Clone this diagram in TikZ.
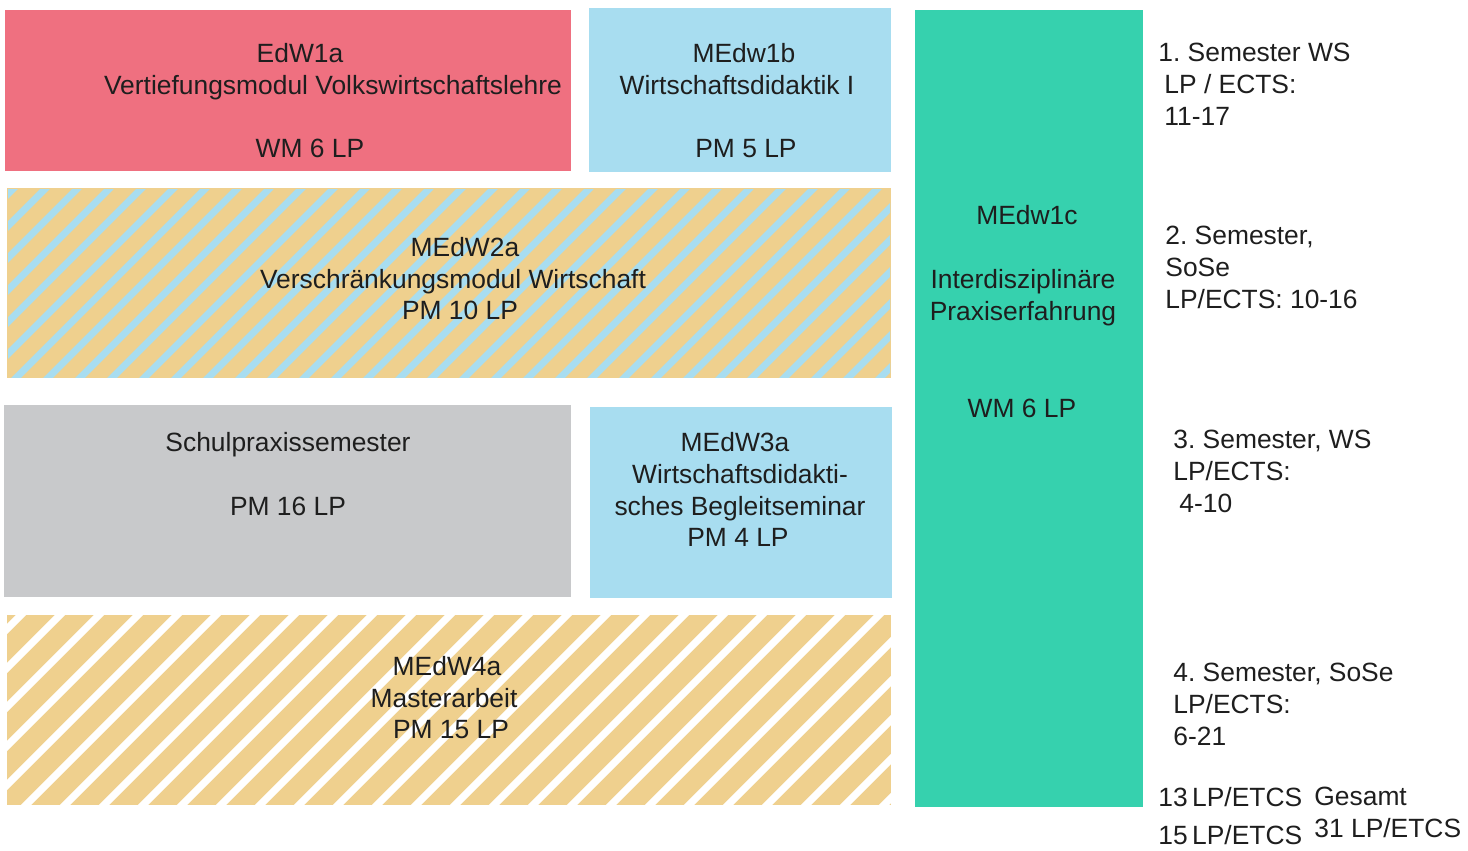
\documentclass[tikz,border=0pt]{standalone}
\usepackage{fontspec}
\setmainfont{Liberation Sans}
\frenchspacing
\definecolor{cred}{RGB}{239,112,128}
\definecolor{cblue}{RGB}{168,221,240}
\definecolor{ctan}{RGB}{239,208,142}
\definecolor{cgray}{RGB}{200,201,203}
\definecolor{cgreen}{RGB}{54,209,174}
\definecolor{ctext}{RGB}{30,30,30}
\tikzset{
  lbl/.style={font=\fontsize{13.2}{16}\selectfont, text=ctext, inner sep=0pt, align=center, anchor=north},
  rlbl/.style={font=\fontsize{13.2}{16}\selectfont, text=ctext, inner sep=0pt, align=left, anchor=north west},
}
\begin{document}
\begin{tikzpicture}[x=0.5pt,y=-0.5pt]
\useasboundingbox (0,0) rectangle (1468,851);
% boxes
\fill[cred] (5,10) rectangle (571,171);
\fill[cblue] (589,8) rectangle (891,172);
\fill[cgray] (4,405) rectangle (571,597);
\fill[cblue] (590,407) rectangle (892,598);
\fill[cgreen] (915,10) rectangle (1143,807);
% hatched MEdW2a
\fill[ctan] (7,188) rectangle (891,378);
\begin{scope}
  \clip (8,189) rectangle (890,377);
  \foreach \i in {-240,-208,...,900}
    \draw[cblue, line width=3.4pt] (\i,410) -- ++(250,-250);
\end{scope}
% hatched MEdW4a
\fill[ctan] (7,615) rectangle (891,805);
\begin{scope}
  \clip (7,615) rectangle (891,805);
  \foreach \i in {-240,-201,...,900}
    \draw[white, line width=3.6pt] (\i,837) -- ++(250,-250);
\end{scope}
% texts
\node[lbl] (t1a) at (300,43) {EdW1a};
\node[lbl] (t1a2) at (333,75) {Vertiefungsmodul Volkswirtschaftslehre};
\node[lbl] (t1a3) at (310,139) {WM 6 LP};
\node[lbl] (t1b) at (744,43) {MEdw1b};
\node[lbl] (t1b2) at (737,75) {Wirtschaftsdidaktik I};
\node[lbl] (t1b3) at (746,139) {PM 5 LP};
\node[lbl] (t2a) at (465,237) {MEdW2a};
\node[lbl] (t2a2) at (453,269) {Verschränkungsmodul Wirtschaft};
\node[lbl] (t2a3) at (460,301) {PM 10 LP};
\node[lbl] (tsp) at (288,432) {Schulpraxissemester\\[16pt]PM 16 LP};
\node[lbl] (t3a) at (735,432) {MEdW3a};
\node[lbl] (t3a2) at (740,464) {Wirtschaftsdidakti-\\sches Begleitseminar};
\node[lbl] (t3a3) at (738,528) {PM 4 LP};
\node[lbl] (t4a) at (447,656) {MEdW4a};
\node[lbl] (t4a2) at (444,688) {Masterarbeit};
\node[lbl] (t4a3) at (451,720) {PM 15 LP};
\node[lbl] (t1c) at (1027,205) {MEdw1c};
\node[lbl] (t1c2) at (1023,269) {Interdisziplinäre\\Praxiserfahrung};
\node[lbl] (t1c3) at (1022,399) {WM 6 LP};
% right column
\node[rlbl] (s1) at (1158,43) {1. Semester WS\\\hspace*{3pt}LP / ECTS:\\\hspace*{3pt}11-17};
\node[rlbl] (s2) at (1165,226) {2. Semester,\\SoSe\\LP/ECTS: 10-16};
\node[rlbl] (s3) at (1173,430) {3. Semester, WS\\LP/ECTS:\\\hspace*{3pt}4-10};
\node[rlbl] (s4) at (1173,663) {4. Semester, SoSe\\LP/ECTS:\\6-21};
\node[rlbl] (g1) at (1158,787) {13\,LP/ETCS};
\node[rlbl] (g2) at (1158,825) {15\,LP/ETCS};
\node[rlbl] (g3) at (1314,787) {Gesamt\\31 LP/ETCS};
\end{tikzpicture}
\end{document}
